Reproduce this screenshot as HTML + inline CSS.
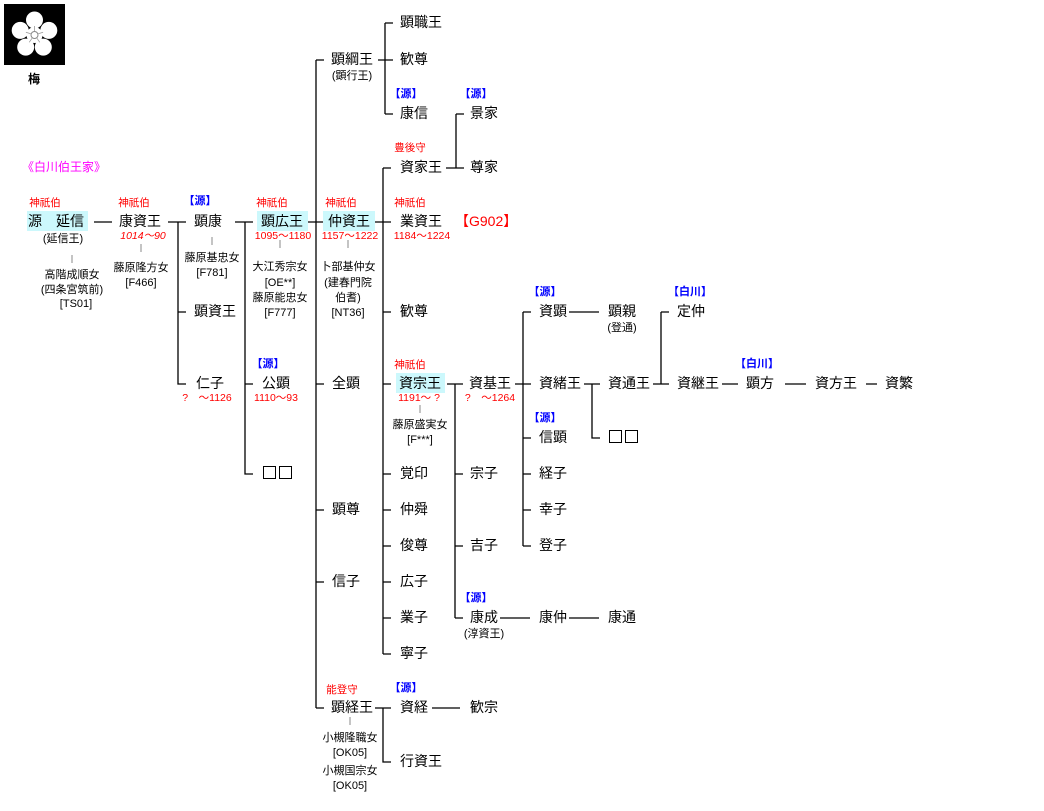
<!DOCTYPE html>
<html><head><meta charset="utf-8">
<style>
body{margin:0;width:1044px;height:811px;background:#fff;position:relative;overflow:hidden;font-family:"Liberation Sans","Noto Sans CJK JP",sans-serif;}
.t{position:absolute;font-size:14px;line-height:16px;white-space:nowrap;color:#000;}
.s{position:absolute;font-size:11px;line-height:13px;white-space:nowrap;color:#000;transform:translateX(-50%);}
.r{color:#f00;font-size:10.5px;}
.b{color:#00f;font-size:11px;font-weight:bold;}
.hl{position:absolute;background:#ccf8fc;}
.bx{position:absolute;width:11px;height:11px;border:1.5px solid #000;}
svg{position:absolute;left:0;top:0;}
</style></head><body>
<div class="hl" style="left:27px;top:211px;width:61px;height:20px"></div>
<div class="hl" style="left:257px;top:211px;width:51px;height:20px"></div>
<div class="hl" style="left:323px;top:211px;width:52px;height:20px"></div>
<div class="hl" style="left:396px;top:373px;width:49px;height:20px"></div>
<svg width="1044" height="811">
<rect x="4" y="4" width="61" height="61" fill="#000"/>
<g fill="#fff" transform="translate(34.5,35)">
<circle cx="0" cy="-15" r="8.5"/><circle cx="14.3" cy="-4.6" r="8.5"/><circle cx="8.8" cy="12.1" r="8.5"/><circle cx="-8.8" cy="12.1" r="8.5"/><circle cx="-14.3" cy="-4.6" r="8.5"/>
<circle cx="0" cy="0" r="8"/>
<circle cx="0" cy="0" r="3.5" fill="#fff" stroke="#888" stroke-width="1"/>
<g stroke="#999" stroke-width="0.8"><path d="M0 -4V-9M3.8 -1.2L8.6 -2.8M2.4 3.2L5.3 7.3M-2.4 3.2L-5.3 7.3M-3.8 -1.2L-8.6 -2.8"/></g>
</g>
<g stroke="#000" stroke-width="1.3" fill="none">
<path d="M94 222H112M168 222H186M178 222V384H186M178 312H186"/>
<path d="M235 222H253M245 222V474H253M245 384H253"/>
<path d="M308 222H323M316 60V708M316 60H324M316 384H324M316 510H324M316 582H324M316 708H324"/>
<path d="M375 222H391M383 168V654M383 168H391M383 312H391M383 384H391M383 474H391M383 510H391M383 546H391M383 582H391M383 618H391M383 654H391"/>
<path d="M378 60H393M385 23V114M385 23H393M385 114H393"/>
<path d="M446 168H464M456 114V168M456 114H464"/>
<path d="M447 384H463M455 384V618M455 474H463M455 546H463M455 618H463"/>
<path d="M515 384H531M523 312V546M523 312H531M523 438H531M523 474H531M523 510H531M523 546H531"/>
<path d="M584 384H600M592 384V438H600"/>
<path d="M653 384H669M661 312V384M661 312H669"/>
<path d="M375 708H391M383 708V762H391"/>
<path d="M569 312H599M432 708H460M500 618H530M569 618H599M722 384H738M785 384H806M866 384H877"/>
</g>
<g stroke="#888" stroke-width="1">
<path d="M72 255V263M141 244V252M212 237V245M280 240V248M348 240V248M420 405V413M350 717V725"/>
</g>
</svg>
<div class="s" style="left:34px;top:73px;font-size:12px;font-weight:bold">梅</div>
<div class="t" style="left:22px;top:159px;font-size:12px;color:#f0f">《白川伯王家》</div>

<div class="s r" style="left:45px;top:197px">神祇伯</div>
<div class="t" style="left:28px;top:213px">源　延信</div>
<div class="s" style="left:63px;top:233px">(延信王)</div>
<div class="s" style="left:72px;top:269px">高階成順女</div>
<div class="s" style="left:72px;top:284px">(四条宮筑前)</div>
<div class="s" style="left:76px;top:298px">[TS01]</div>

<div class="s r" style="left:134px;top:197px">神祇伯</div>
<div class="t" style="left:119px;top:213px">康資王</div>
<div class="s r" style="left:143px;top:230px;font-style:italic">1014〜90</div>
<div class="s" style="left:141px;top:262px">藤原隆方女</div>
<div class="s" style="left:141px;top:277px">[F466]</div>

<div class="s b" style="left:200px;top:195px">【源】</div>
<div class="t" style="left:194px;top:213px">顕康</div>
<div class="s" style="left:212px;top:252px">藤原基忠女</div>
<div class="s" style="left:212px;top:267px">[F781]</div>
<div class="t" style="left:194px;top:303px">顕資王</div>
<div class="t" style="left:196px;top:375px">仁子</div>
<div class="s r" style="left:207px;top:392px">?　〜1126</div>

<div class="s r" style="left:272px;top:197px">神祇伯</div>
<div class="t" style="left:261px;top:213px">顕広王</div>
<div class="s r" style="left:283px;top:230px">1095〜1180</div>
<div class="s" style="left:280px;top:261px">大江秀宗女</div>
<div class="s" style="left:280px;top:277px">[OE**]</div>
<div class="s" style="left:280px;top:292px">藤原能忠女</div>
<div class="s" style="left:280px;top:307px">[F777]</div>
<div class="s b" style="left:268px;top:358px">【源】</div>
<div class="t" style="left:262px;top:375px">公顕</div>
<div class="s r" style="left:276px;top:392px">1110〜93</div>
<div class="bx" style="left:263px;top:466px"></div><div class="bx" style="left:279px;top:466px"></div>

<div class="s r" style="left:341px;top:197px">神祇伯</div>
<div class="t" style="left:328px;top:213px">仲資王</div>
<div class="s r" style="left:350px;top:230px">1157〜1222</div>
<div class="s" style="left:348px;top:261px">卜部基仲女</div>
<div class="s" style="left:348px;top:277px">(建春門院</div>
<div class="s" style="left:348px;top:292px">伯耆)</div>
<div class="s" style="left:348px;top:307px">[NT36]</div>
<div class="t" style="left:331px;top:51px">顕綱王</div>
<div class="s" style="left:352px;top:70px">(顕行王)</div>
<div class="t" style="left:332px;top:375px">全顕</div>
<div class="t" style="left:332px;top:501px">顕尊</div>
<div class="t" style="left:332px;top:573px">信子</div>
<div class="s r" style="left:342px;top:684px">能登守</div>
<div class="t" style="left:331px;top:699px">顕経王</div>
<div class="s" style="left:350px;top:732px">小槻隆職女</div>
<div class="s" style="left:350px;top:747px">[OK05]</div>
<div class="s" style="left:350px;top:765px">小槻国宗女</div>
<div class="s" style="left:350px;top:780px">[OK05]</div>

<div class="t" style="left:400px;top:14px">顕職王</div>
<div class="t" style="left:400px;top:51px">歓尊</div>
<div class="s b" style="left:406px;top:88px">【源】</div>
<div class="t" style="left:400px;top:105px">康信</div>
<div class="s r" style="left:410px;top:142px">豊後守</div>
<div class="t" style="left:400px;top:159px">資家王</div>
<div class="s r" style="left:410px;top:197px">神祇伯</div>
<div class="t" style="left:400px;top:213px">業資王</div>
<div class="t" style="left:455px;top:213px;color:#f00">【G902】</div>
<div class="s r" style="left:422px;top:230px">1184〜1224</div>
<div class="t" style="left:400px;top:303px">歓尊</div>
<div class="s r" style="left:410px;top:359px">神祇伯</div>
<div class="t" style="left:399px;top:375px">資宗王</div>
<div class="s r" style="left:419px;top:392px">1191〜 ?</div>
<div class="s" style="left:420px;top:419px">藤原盛実女</div>
<div class="s" style="left:420px;top:434px">[F***]</div>
<div class="t" style="left:400px;top:465px">覚印</div>
<div class="t" style="left:400px;top:501px">仲舜</div>
<div class="t" style="left:400px;top:537px">俊尊</div>
<div class="t" style="left:400px;top:573px">広子</div>
<div class="t" style="left:400px;top:609px">業子</div>
<div class="t" style="left:400px;top:645px">寧子</div>
<div class="s b" style="left:406px;top:682px">【源】</div>
<div class="t" style="left:400px;top:699px">資経</div>
<div class="t" style="left:400px;top:753px">行資王</div>

<div class="s b" style="left:476px;top:88px">【源】</div>
<div class="t" style="left:470px;top:105px">景家</div>
<div class="t" style="left:470px;top:159px">尊家</div>
<div class="t" style="left:469px;top:375px">資基王</div>
<div class="s r" style="left:490px;top:392px">?　〜1264</div>
<div class="t" style="left:470px;top:465px">宗子</div>
<div class="t" style="left:470px;top:537px">吉子</div>
<div class="s b" style="left:476px;top:592px">【源】</div>
<div class="t" style="left:470px;top:609px">康成</div>
<div class="s" style="left:484px;top:628px">(淳資王)</div>
<div class="t" style="left:470px;top:699px">歓宗</div>

<div class="s b" style="left:545px;top:286px">【源】</div>
<div class="t" style="left:539px;top:303px">資顕</div>
<div class="t" style="left:539px;top:375px">資緒王</div>
<div class="s b" style="left:545px;top:412px">【源】</div>
<div class="t" style="left:539px;top:429px">信顕</div>
<div class="t" style="left:539px;top:465px">経子</div>
<div class="t" style="left:539px;top:501px">幸子</div>
<div class="t" style="left:539px;top:537px">登子</div>
<div class="t" style="left:539px;top:609px">康仲</div>

<div class="t" style="left:608px;top:303px">顕親</div>
<div class="s" style="left:622px;top:322px">(登通)</div>
<div class="t" style="left:608px;top:375px">資通王</div>
<div class="bx" style="left:609px;top:430px"></div><div class="bx" style="left:625px;top:430px"></div>
<div class="t" style="left:608px;top:609px">康通</div>

<div class="s b" style="left:690px;top:286px">【白川】</div>
<div class="t" style="left:677px;top:303px">定仲</div>
<div class="t" style="left:677px;top:375px">資継王</div>
<div class="s b" style="left:757px;top:358px">【白川】</div>
<div class="t" style="left:746px;top:375px">顕方</div>
<div class="t" style="left:815px;top:375px">資方王</div>
<div class="t" style="left:885px;top:375px">資繁</div>
</body></html>
